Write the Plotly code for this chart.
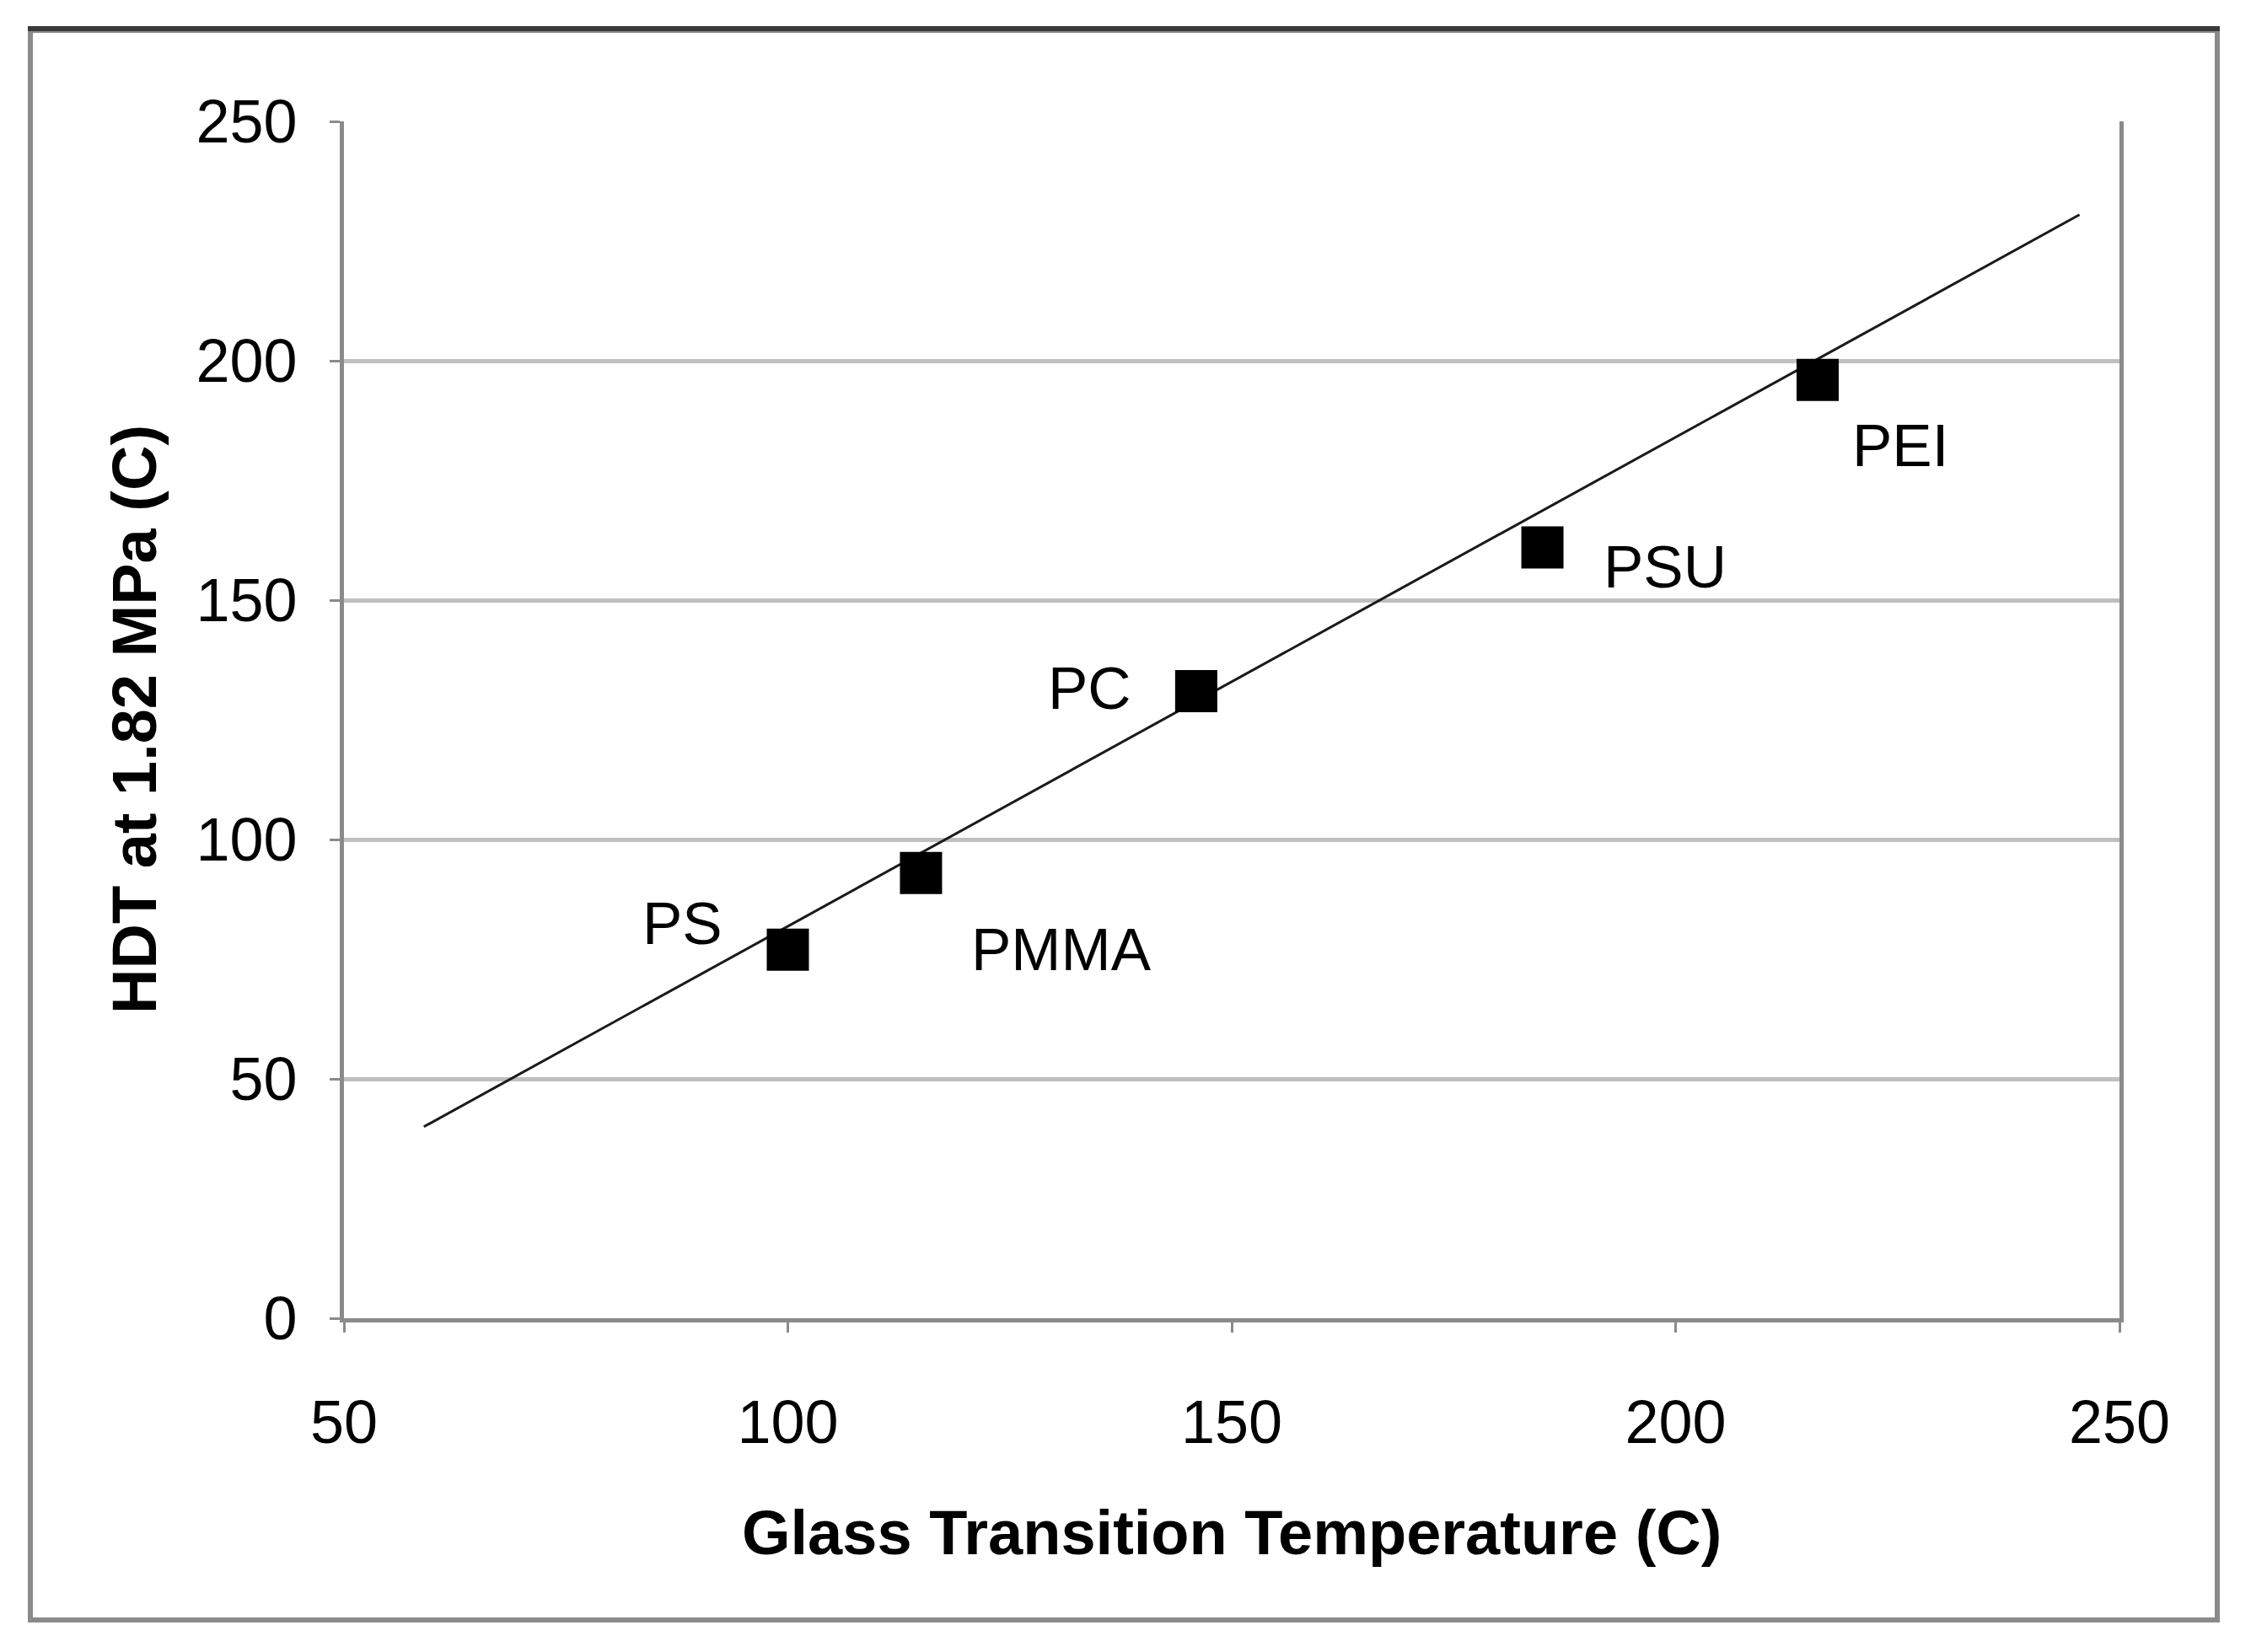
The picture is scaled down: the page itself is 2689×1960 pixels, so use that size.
import plotly.graph_objects as go

# ---- data ----
polymers = ["PS", "PMMA", "PC", "PSU", "PEI"]
tg_c = [100, 115, 146, 185, 216]          # glass transition temperature (C)
hdt_c = [77, 93, 131, 161, 196]           # HDT at 1.82 MPa (C)
trend_x = [59, 245.5]                     # linear trend line
trend_y = [40, 230.5]
x_ticks = [50, 100, 150, 200, 250]
y_ticks = [0, 50, 100, 150, 200, 250]
x_title = "Glass Transition Temperature (C)"
y_title = "HDT at 1.82 MPa (C)"

# ---- layout geometry (page pixels; the page body has an 8px margin) ----
OFF = 8
W, H = 2689 - 2 * OFF, 1960 - 2 * OFF
PLOT_L, PLOT_R, PLOT_T, PLOT_B = 408, 2514, 144, 1564   # page coords
L = PLOT_L - OFF
T = PLOT_T - OFF
R = W - (PLOT_R - OFF)
B = H - (PLOT_B - OFF)
PW, PH = W - L - R, H - T - B


def px_x(p):
    return (p - OFF - L) / PW


def px_y(p):
    return (PLOT_B - p) / PH


FONT = "Arial, Liberation Sans, Helvetica, sans-serif"

# label offsets (pixels from marker centre) - styling
label_shift = {
    "PS": (-125, 31),
    "PMMA": (167, -91),
    "PC": (-126, 3),
    "PSU": (145, -23),
    "PEI": (98, -78),
}

fig = go.Figure()
fig.add_trace(go.Scatter(
    x=trend_x, y=trend_y, mode="lines",
    line=dict(color="#1a1a1a", width=3), hoverinfo="skip", showlegend=False,
))
fig.add_trace(go.Scatter(
    x=tg_c, y=hdt_c, mode="markers", text=polymers,
    marker=dict(symbol="square", size=50, color="black", line=dict(width=0)),
    showlegend=False,
))

for name, xv, yv in zip(polymers, tg_c, hdt_c):
    dx, dy = label_shift[name]
    fig.add_annotation(
        x=xv, y=yv, xref="x", yref="y", text=name, showarrow=False,
        xshift=dx, yshift=dy, xanchor="center", yanchor="middle",
        font=dict(family=FONT, size=71, color="black"),
    )

# axis titles
fig.add_annotation(
    x=0.5, y=0, xref="paper", yref="paper", text="<b>%s</b>" % x_title,
    showarrow=False, xanchor="center", yanchor="middle", yshift=-(1818 - PLOT_B),
    font=dict(family=FONT, size=74, color="black"),
)
fig.add_annotation(
    x=0, y=0.5, xref="paper", yref="paper", text="<b>%s</b>" % y_title,
    showarrow=False, xanchor="center", yanchor="middle", textangle=-90,
    xshift=-(PLOT_L - 159),
    font=dict(family=FONT, size=74, color="black"),
)

# outer frame
fig.add_shape(type="rect", xref="paper", yref="paper",
              x0=px_x(36), x1=px_x(2630), y0=px_y(1922), y1=px_y(36),
              line=dict(color="#8a8a8a", width=6), layer="below")
fig.add_shape(type="line", xref="paper", yref="paper",
              x0=px_x(33), x1=px_x(2633), y0=px_y(34), y1=px_y(34),
              line=dict(color="#3a3a3a", width=6))

fig.update_xaxes(
    range=[50, 250], tickvals=x_ticks, ticktext=[str(v) for v in x_ticks],
    showgrid=False, zeroline=False,
    showline=True, linecolor="#8a8a8a", linewidth=5, mirror=False,
    ticks="outside", ticklen=12, tickwidth=3, tickcolor="#8a8a8a",
    ticklabelstandoff=45,
    tickfont=dict(family=FONT, size=72, color="black"),
)
fig.update_yaxes(
    range=[0, 250], tickvals=y_ticks, ticktext=[str(v) for v in y_ticks],
    showgrid=True, gridcolor="#bfbfbf", gridwidth=5, zeroline=False,
    showline=True, linecolor="#8a8a8a", linewidth=5, mirror=True,
    ticks="outside", ticklen=12, tickwidth=3, tickcolor="#8a8a8a",
    ticklabelstandoff=24,
    tickfont=dict(family=FONT, size=72, color="black"),
)

fig.update_layout(
    width=W, height=H,
    margin=dict(l=L, r=R, t=T, b=B, pad=0),
    paper_bgcolor="white", plot_bgcolor="white",
    showlegend=False,
)

fig.write_html("out.html")
